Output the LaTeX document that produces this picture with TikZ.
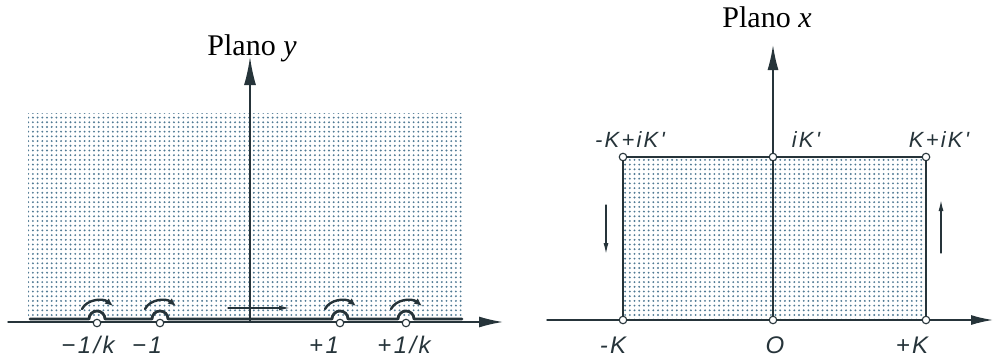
\documentclass[tikz,border=0pt]{standalone}
\usepackage{fontspec}
\setmainfont{Liberation Serif}
\newfontfamily\hand[LetterSpace=10]{Liberation Sans}
\usetikzlibrary{patterns,arrows.meta}
\definecolor{ink}{RGB}{38,52,58}
\definecolor{dotc}{RGB}{80,122,148}
\pgfdeclarepatternformonly{mydots}{\pgfqpoint{-1.2pt}{-1.2pt}}{\pgfqpoint{1.2pt}{1.2pt}}{\pgfqpoint{4.7pt}{4.7pt}}{%
  \pgfpathcircle{\pgfqpoint{0pt}{0pt}}{1.05pt}\pgfusepath{fill}}
\begin{document}
\begin{tikzpicture}[x=1pt,y=-1pt,line cap=round,line join=round,
  axis/.style={draw=ink,line width=1.5pt},
  bord/.style={draw=ink,line width=2.8pt},
  bump/.style={draw=ink,line width=2.4pt},
  thin/.style={draw=ink,line width=1.3pt},
  pnt/.style={circle,draw=ink,fill=white,line width=1.1pt,inner sep=0pt,minimum size=7.5pt},
  lab/.style={font=\hand\itshape\fontsize{24}{24}\selectfont,text=ink,anchor=base},
  tlab/.style={font=\hand\itshape\fontsize{22}{22}\selectfont,text=ink,anchor=base},
  ttl/.style={font=\fontsize{30}{30}\selectfont,anchor=base},
  shade/.style={pattern=mydots,pattern color=dotc}]
\useasboundingbox (0,0) rectangle (994,362);

% ---------------- left panel: Plano y ----------------
\fill[shade] (28,113) rectangle (462,318);
\coordinate (LW) at (8,322);
\coordinate (LE) at (503,322);
\coordinate (LO) at (250,322);
\coordinate (LN) at (250,57);
\draw[axis,-{Latex[length=24pt,width=11pt]}] (LW) -- (LE);
\draw[axis,-{Latex[length=28pt,width=12pt]}] (LO) -- (LN);

% contour along real axis with indentations
\draw[bord] (30,319) -- (89,319) arc[start angle=180,end angle=360,radius=8]
  -- (152,319) arc[start angle=180,end angle=360,radius=8]
  -- (332,319) arc[start angle=180,end angle=360,radius=8]
  -- (398,319) arc[start angle=180,end angle=360,radius=8] -- (462,319);

% arrows above the indentations
\foreach \px in {97,160,340,406}{
  \draw[bump,-{Latex[length=8pt,width=7pt]}] (\px-15,309) .. controls (\px-10,299) and (\px+6,298) .. (\px+16,306);
}

% points
\node[pnt] (pa) at (97,323) {};
\node[pnt] (pb) at (160,323) {};
\node[pnt] (pc) at (340,323) {};
\node[pnt] (pd) at (406,323) {};

% direction arrow
\coordinate (CA) at (228,308);
\coordinate (CB) at (290,308);
\draw[thin,-{Latex[length=11pt,width=5pt]}] (CA) -- (CB);

\node[lab] (la) at (88,353) {−1/k};
\node[lab] (lb) at (147,353) {−1};
\node[lab] (lc) at (324,353) {+1};
\node[lab] (ld) at (404,353) {+1/k};

\node[ttl] (t1) at (252,55) {Plano \textit{y}};

% ---------------- right panel: Plano x ----------------
\fill[shade] (623,157) rectangle (926,320);
\coordinate (RW) at (547,320);
\coordinate (RE) at (993,320);
\coordinate (RO) at (773,320);
\coordinate (RN) at (773,45);
\draw[axis,-{Latex[length=22pt,width=10pt]}] (RW) -- (RE);
\draw[axis,-{Latex[length=25pt,width=11pt]}] (RO) -- (RN);

\coordinate (BL) at (623,320);
\coordinate (BR) at (926,320);
\coordinate (TL) at (623,157);
\coordinate (TR) at (926,157);
\coordinate (TM) at (773,157);
\draw[bord] (BL) -- (BR) -- (TR) -- (TL) -- cycle;

\node[pnt] (c1) at (BL) {};
\node[pnt] (c2) at (RO) {};
\node[pnt] (c3) at (BR) {};
\node[pnt] (c4) at (TL) {};
\node[pnt] (c5) at (TM) {};
\node[pnt] (c6) at (TR) {};

\coordinate (DA) at (606,205);
\coordinate (DB) at (606,254);
\draw[thin,-{Latex[length=11pt,width=5pt]}] (DA) -- (DB);
\coordinate (UA) at (941,253);
\coordinate (UB) at (941,200);
\draw[thin,-{Latex[length=11pt,width=5pt]}] (UA) -- (UB);

\node[tlab] (k1) at (630,147) {-K+iK'};
\node[tlab] (k2) at (806,147) {iK'};
\node[tlab] (k3) at (939,147) {K+iK'};

\node[lab] (b1) at (613,353) {-K};
\node[lab] (b2) at (775,353) {O};
\node[lab] (b3) at (912,353) {+K};

\node[ttl] (t2) at (767,27) {Plano \textit{x}};
\end{tikzpicture}
\end{document}
